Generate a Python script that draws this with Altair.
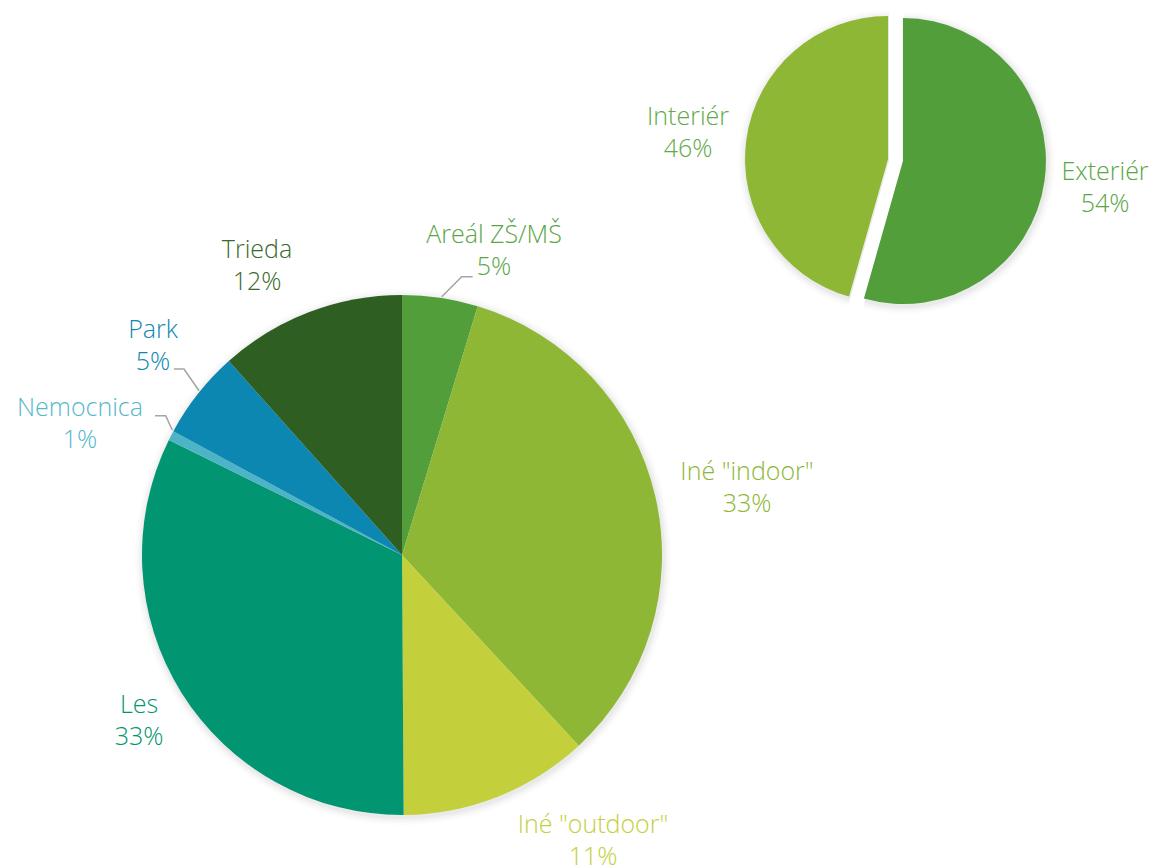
import math
import altair as alt
import pandas as pd

# ---------------- data ----------------
main_cats = ["Areál ZŠ/MŠ", 'Iné "indoor"', 'Iné "outdoor"', "Les", "Nemocnica", "Park", "Trieda"]
main_vals = [4.7, 33.4, 11.8, 32.4, 0.6, 5.5, 11.6]
main_pct = ["5%", "33%", "11%", "33%", "1%", "5%", "12%"]
main_colors = ["#529E3A", "#8DB735", "#C3D03B", "#029571", "#4DB3C7", "#0B87B1", "#2F5E23"]
main_text_colors = ["#5AA646", "#8DB735", "#C3D03B", "#029571", "#55B8CA", "#0B87B1", "#386A2C"]

side_cats = ["Exteriér", "Interiér"]
side_vals = [54.4, 45.6]
side_pct = ["54%", "46%"]
side_colors = ["#529E3A", "#8DB735"]
side_text_colors = ["#5AA646", "#62AA48"]

# ---------------- layout (chart pixel coordinates) ----------------
MAIN = dict(cx=394, cy=547, r=260, explode=0)
SIDE = dict(cx=887.5, cy=152, r=143, explode=7.5)

main_label_xy = [(486, 235), (739, 472), (585, 825), (131, 705), (72, 408), (145, 330), (249, 250)]
side_label_xy = [(1097, 172), (680, 117)]

leader_lines = [
    [(433.7, 288.7), (453.7, 268.7), (464.7, 268.7)],
    [(166, 361), (176, 361), (191, 382.7)],
    [(147, 407.7), (157.7, 407.7), (164.3, 422)],
]

all_cats = main_cats + side_cats
color_scale = alt.Scale(domain=all_cats, range=main_colors + side_colors)
text_scale = alt.Scale(domain=all_cats, range=main_text_colors + side_text_colors)
FONT = "Open Sans"
FS = 25


def pie_layers(cats, vals, pcts, label_xy, lay):
    df = pd.DataFrame({"cat": cats, "value": vals, "idx": list(range(len(cats)))})
    base = (
        alt.Chart(df)
        .transform_window(cum="sum(value)", sort=[alt.SortField("idx")])
        .transform_joinaggregate(total="sum(value)")
        .transform_calculate(
            start="(datum.cum - datum.value) / datum.total",
            end="datum.cum / datum.total",
        )
        .transform_calculate(mid="(datum.start + datum.end) * PI")
        .transform_calculate(
            cx=f"{lay['cx']} + {lay['explode']} * sin(datum.mid)",
            cy=f"{lay['cy']} - {lay['explode']} * cos(datum.mid)",
        )
    )
    theta = alt.Theta("start:Q", scale=alt.Scale(domain=[0, 1], range=[0, 2 * math.pi]), stack=False)
    layers = []
    for k, op in [(8, 0.025), (6, 0.03), (4, 0.045), (2, 0.06)]:
        layers.append(
            base.transform_calculate(sx="datum.cx + 1", sy="datum.cy + 2")
            .mark_arc(radius=lay["r"] + k, color="#7f7f7f", opacity=op)
            .encode(
                theta=theta, theta2="end:Q",
                x=alt.X("sx:Q", scale=None), y=alt.Y("sy:Q", scale=None),
            )
        )
    layers.append(
        base.mark_arc(radius=lay["r"]).encode(
            theta=theta, theta2="end:Q",
            x=alt.X("cx:Q", scale=None), y=alt.Y("cy:Q", scale=None),
            color=alt.Color("cat:N", scale=color_scale, legend=None),
        )
    )
    lab = pd.DataFrame({
        "cat": cats,
        "pct": pcts,
        "lx": [p[0] for p in label_xy],
        "ly": [p[1] for p in label_xy],
    })
    tbase = alt.Chart(lab).encode(
        x=alt.X("lx:Q", scale=None),
        y=alt.Y("ly:Q", scale=None),
        color=alt.Color("cat:N", scale=text_scale, legend=None),
    )
    layers.append(
        tbase.mark_text(font=FONT, fontSize=FS, fontWeight=300, align="center", baseline="alphabetic")
        .encode(text="cat:N")
    )
    layers.append(
        tbase.mark_text(font=FONT, fontSize=FS, fontWeight=300, align="center", baseline="alphabetic", dy=32)
        .encode(text="pct:N")
    )
    return layers


rows = []
for i, line in enumerate(leader_lines):
    for j, (x, y) in enumerate(line):
        rows.append({"id": i, "seq": j, "x": x, "y": y})
lines_df = pd.DataFrame(rows)
leaders = alt.Chart(lines_df).mark_line(color="#A6A6A6", strokeWidth=1.6).encode(
    x=alt.X("x:Q", scale=None),
    y=alt.Y("y:Q", scale=None),
    detail="id:N",
    order="seq:Q",
)

layers = pie_layers(main_cats, main_vals, main_pct, main_label_xy, MAIN)
layers += pie_layers(side_cats, side_vals, side_pct, side_label_xy, SIDE)
layers.append(leaders)

chart = (
    alt.layer(*layers)
    .resolve_scale(color="independent")
    .properties(width=1141, height=852, padding=0, background="white")
    .configure_view(strokeWidth=0)
)

chart.save("out.html", embed_options={"renderer": "svg", "actions": False})
